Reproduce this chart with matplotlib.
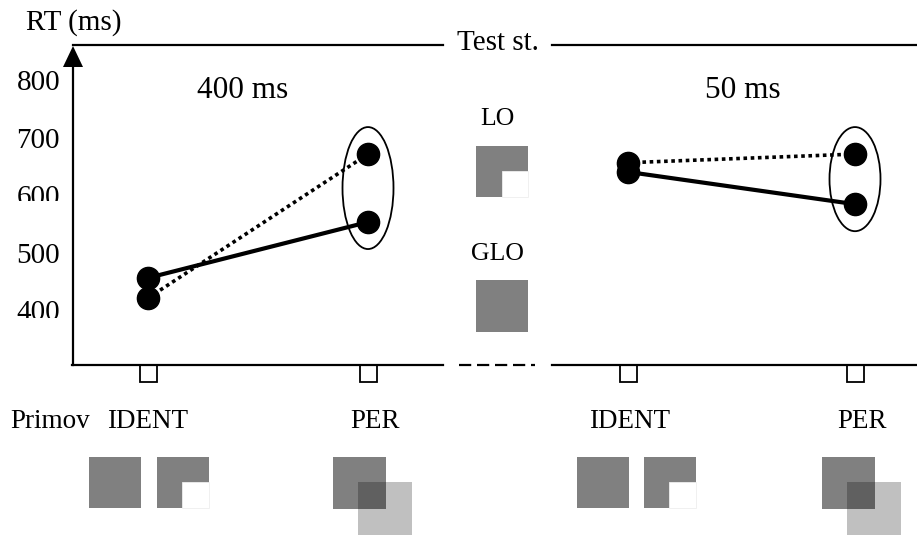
import matplotlib
matplotlib.use("Agg")
import matplotlib.pyplot as plt
from matplotlib.patches import Rectangle, Ellipse, Polygon
from matplotlib.transforms import Affine2D, offset_copy, Bbox
from matplotlib.lines import Line2D

# ---------------- data ----------------
conditions = ["400 ms", "50 ms"]
prime_labels = ["IDENT", "PER", "IDENT", "PER"]
ytick_values = [400, 500, 600, 700, 800]
solid_rt_400 = [459, 556]
dotted_rt_400 = [424, 674]
solid_rt_50 = [643, 587]
dotted_rt_50 = [659, 674]
test_labels = ["LO", "GLO"]

# ---------------- layout ----------------
W, H = 917, 535
x_pos = [148, 368, 628, 855]          # pixel x of the prime conditions
PX_PER_MS = 0.576
Y600_PX = 196.7                        # pixel y (from top) of 600 ms
FONT = "Liberation Serif"

plt.rcParams["font.family"] = [FONT, "DejaVu Serif"]
fig = plt.figure(figsize=(W / 100, H / 100), dpi=100)
ax = fig.add_axes([0, 0, 1, 1])
ax.set_xlim(0, W)
ax.set_ylim(600 - (H - Y600_PX) / PX_PER_MS, 600 + Y600_PX / PX_PER_MS)
ax.axis("off")

# pixel transform (y measured from top)
pxT = Affine2D().scale(1, -1).translate(0, H)

def prect(x0, y0, x1, y1, **kw):
    r = Rectangle((x0, y0), x1 - x0, y1 - y0, transform=pxT, **kw)
    fig.add_artist(r)
    return r

def pline(xs, ys, **kw):
    l = Line2D(xs, ys, transform=pxT, color="black", **kw)
    fig.add_artist(l)
    return l

def ptext(x, y, s, size, ha="center"):
    fig.text(x, y, s, transform=pxT, ha=ha, va="baseline", fontsize=size,
             family=FONT)

AX_LW = 1.6
# frame lines
pline([73, 73], [365, 62], lw=AX_LW)
fig.add_artist(Polygon([(63, 67), (83, 67), (73, 46)], closed=True,
                       transform=pxT, color="black", lw=0))
pline([73, 443], [45, 45], lw=AX_LW)
pline([552, 917], [45, 45], lw=AX_LW)
pline([72, 443], [365, 365], lw=AX_LW)
pline([459, 535], [365, 365], lw=AX_LW, linestyle=(0, (5.5, 2.6)))
pline([552, 917], [365, 365], lw=AX_LW)

# small tick boxes
for x in x_pos:
    prect(x - 8.5, 365, x + 8.5, 382, fill=False, edgecolor="black", lw=1.3)

# y tick labels (baseline 8.5 px below value)
tick_tr = offset_copy(ax.transData, fig=fig, x=0, y=-8.5, units="dots")
clip_px = {600: 4, 400: 2}
for v in ytick_values:
    t = ax.text(60, v, str(v), ha="right", va="baseline", fontsize=21,
                transform=tick_tr, family=FONT)
    if v in clip_px:
        base_disp = tick_tr.transform((60, v))[1]
        t.set_clip_box(Bbox.from_extents(0, base_disp + clip_px[v], W, H))
        t.set_clip_on(True)

# data lines
MS = 16
for (xa, xb), solid, dotted in [((x_pos[0], x_pos[1]), solid_rt_400, dotted_rt_400),
                                ((x_pos[2], x_pos[3]), solid_rt_50, dotted_rt_50)]:
    ax.plot([xa, xb], dotted, color="black", lw=2.6, linestyle=(0, (1, 1)),
            zorder=2)
    ax.plot([xa, xb], solid, color="black", lw=3.0, solid_capstyle="butt",
            zorder=2)
    ax.plot([xa, xb], dotted, linestyle="none", marker="o", ms=MS,
            color="black", zorder=3)
    ax.plot([xa, xb], solid, linestyle="none", marker="o", ms=MS,
            color="black", zorder=3)
    # ellipse around the PER points
    cy = (solid[1] + dotted[1]) / 2
    hgt = (abs(dotted[1] - solid[1]) * PX_PER_MS + 54) / PX_PER_MS
    ax.add_patch(Ellipse((xb, cy), 51, hgt, fill=False, edgecolor="black",
                         lw=1.3, zorder=1))

# texts
ptext(26, 30, "RT (ms)", 21, ha="left")
ptext(242.5, 98, conditions[0], 22.5)
ptext(742.5, 98, conditions[1], 22.5)
ptext(497.5, 50, "Test st.", 21)
ptext(497, 125, test_labels[0], 18.5)
ptext(497.5, 260, test_labels[1], 18.5)
ptext(10, 428, "Primov", 19.5, ha="left")
label_x = [147.5, 375, 629.5, 862.5]
for lx, s in zip(label_x, prime_labels):
    ptext(lx, 428, s, 19.5)

# test stimuli icons
GRAY, LIGHT, OVER = "#808080", "#c0c0c0", "#606060"
prect(476, 146, 528, 197, color=GRAY, lw=0)
prect(502, 171, 528, 197, facecolor="white", edgecolor="#eeeeee", lw=0.6)
prect(476, 280, 528, 332, color=GRAY, lw=0)

# prime icons
def ident_icons(x0a, x0b):
    prect(x0a, 457, x0a + 52, 508, color=GRAY, lw=0)
    prect(x0b, 457, x0b + 52, 508, color=GRAY, lw=0)
    prect(x0b + 25, 482, x0b + 52, 508, facecolor="white",
          edgecolor="#eeeeee", lw=0.6)

def per_icons(x0):
    prect(x0, 457, x0 + 53, 509, color=GRAY, lw=0)
    prect(x0 + 25, 482, x0 + 79, 536, color=LIGHT, lw=0)
    prect(x0 + 25, 482, x0 + 53, 509, color=OVER, lw=0)

ident_icons(89, 157)
per_icons(333)
ident_icons(577, 644)
per_icons(822)

fig.savefig("out.png", dpi=100)
